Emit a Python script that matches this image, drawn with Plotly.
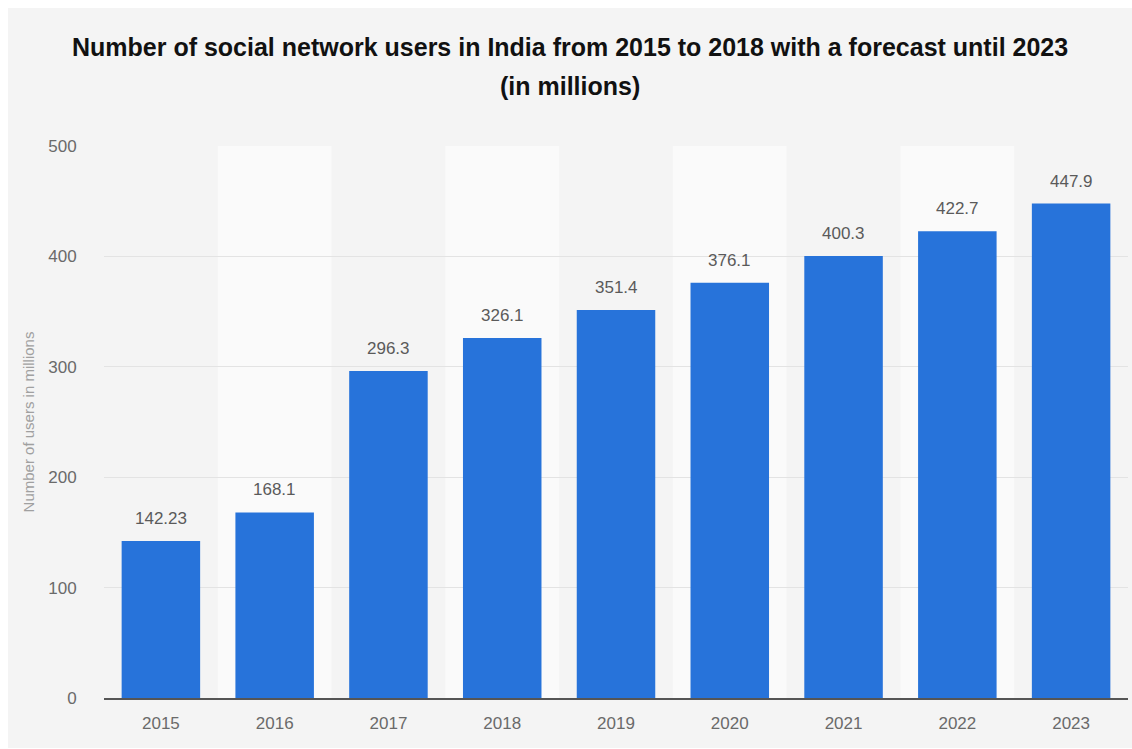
import plotly.graph_objects as go

years = ["2015", "2016", "2017", "2018", "2019", "2020", "2021", "2022", "2023"]
users = [142.23, 168.1, 296.3, 326.1, 351.4, 376.1, 400.3, 422.7, 447.9]
labels = ["142.23", "168.1", "296.3", "326.1", "351.4", "376.1", "400.3", "422.7", "447.9"]
y_ticks = [0, 100, 200, 300, 400, 500]

W, H = 1132, 749
ML, MR, MT, MB = 104, 4, 146, 51
pw, ph = W - ML - MR, H - MT - MB

def px_x(p):
    return (p - ML) / pw

def px_y(p):
    return (H - MB - p) / ph

BAR = "#2773da"
BG = "#f4f4f4"
LIGHT = "#fafafa"
FONT = "Liberation Sans, Arial, sans-serif"

fig = go.Figure()
fig.add_trace(go.Bar(
    x=years, y=users, marker=dict(color=BAR, line=dict(width=0)),
    hoverinfo="x+y",
))

shapes = [dict(type="rect", xref="paper", yref="paper", layer="below",
               x0=px_x(8), x1=px_x(W + 2), y0=px_y(H - 1), y1=px_y(8),
               fillcolor=BG, line=dict(width=0))]
for i, yr in enumerate(years):
    if i % 2 == 1:
        shapes.append(dict(type="rect", xref="x", yref="y", layer="below",
                           x0=i - 0.5, x1=i + 0.5, y0=0, y1=y_ticks[-1],
                           fillcolor=LIGHT, line=dict(width=0)))

annotations = []
for i, (v, lab) in enumerate(zip(users, labels)):
    annotations.append(dict(x=i, y=v, text=lab, showarrow=False, xref="x", yref="y",
                            yanchor="bottom", yshift=11,
                            font=dict(family=FONT, size=17, color="#5a5a5a")))

annotations.append(dict(xref="paper", yref="paper", x=px_x(570), y=px_y(47),
                        text="<b>Number of social network users in India from 2015 to 2018 with a forecast until 2023</b>",
                        showarrow=False, xanchor="center", yanchor="middle",
                        font=dict(family=FONT, size=25, color="#111111")))
annotations.append(dict(xref="paper", yref="paper", x=px_x(570), y=px_y(86),
                        text="<b>(in millions)</b>",
                        showarrow=False, xanchor="center", yanchor="middle",
                        font=dict(family=FONT, size=25, color="#111111")))

fig.update_layout(
    width=W, height=H,
    margin=dict(l=ML, r=MR, t=MT, b=MB, pad=0),
    paper_bgcolor="white",
    plot_bgcolor="rgba(0,0,0,0)",
    bargap=0.31,
    showlegend=False,
    shapes=shapes,
    annotations=annotations,
    xaxis=dict(
        type="category", showgrid=False, showline=True, linecolor="#555555", linewidth=2,
        ticks="outside", ticklen=9, tickcolor="rgba(0,0,0,0)",
        tickfont=dict(family=FONT, size=17, color="#6a6a6a"),
        range=[-0.5, len(years) - 0.5], fixedrange=True,
    ),
    yaxis=dict(
        range=[0, y_ticks[-1]], tickvals=y_ticks, ticktext=[str(t) for t in y_ticks],
        showgrid=True, gridcolor="#e3e3e3", gridwidth=1, zeroline=False, showline=False,
        ticks="outside", ticklen=23, tickcolor="rgba(0,0,0,0)",
        tickfont=dict(family=FONT, size=17, color="#6a6a6a"),
        title=dict(text="Number of users in millions", standoff=9,
                   font=dict(family=FONT, size=15, color="#a0a0a0")),
        fixedrange=True,
    ),
)

fig.write_html("out.html")
